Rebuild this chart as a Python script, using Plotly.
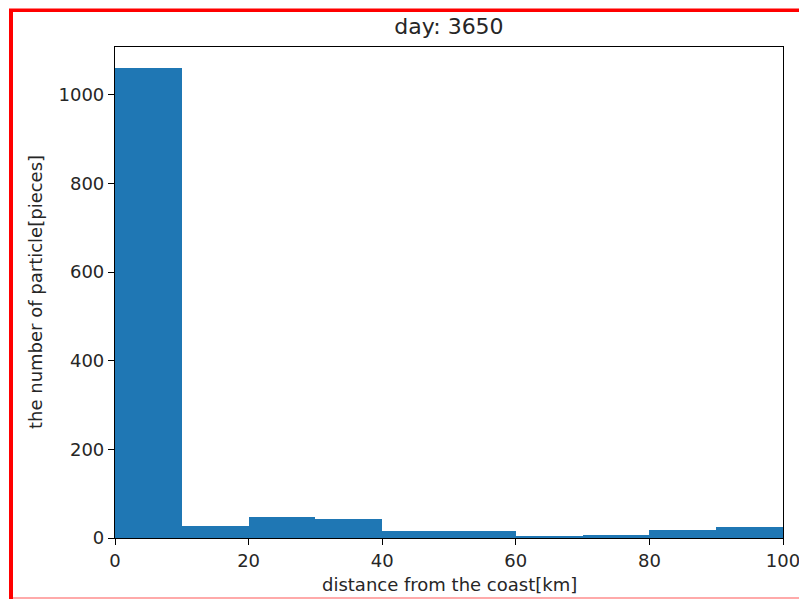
import plotly.graph_objects as go

bin_edges = [0, 10, 20, 30, 40, 50, 60, 70, 80, 90, 100]
counts = [1060, 28, 48, 42, 15, 15, 4, 7, 18, 25]
x_ticks = [0, 20, 40, 60, 80, 100]
y_ticks = [0, 200, 400, 600, 800, 1000]

centers = [(bin_edges[i] + bin_edges[i + 1]) / 2 for i in range(len(counts))]
widths = [bin_edges[i + 1] - bin_edges[i] for i in range(len(counts))]

W, H = 799, 599
L, R, T, B = 115, 16, 47, 61
pw, ph = W - L - R, H - T - B


def px(x):
    return (x - L) / pw


def py(y):
    return (H - B - y) / ph


fig = go.Figure(go.Bar(x=centers, y=counts, width=widths,
                       marker=dict(color="#1f77b4", line=dict(width=0))))

TXT = "#262626"
font = dict(family="DejaVu Sans", size=18, color=TXT)
axis_common = dict(showline=True, linecolor="black", linewidth=1.2, mirror=True,
                   ticks="outside", ticklen=6, tickcolor="black", tickwidth=1.2,
                   showgrid=False, zeroline=False, tickfont=font, automargin=False,
                   ticklabeloverflow="allow")

fig.update_layout(
    width=W, height=H,
    margin=dict(l=L, r=R, t=T, b=B),
    paper_bgcolor="white", plot_bgcolor="white",
    bargap=0, showlegend=False,
    title=dict(text="day: 3650", xref="paper", x=0.5, xanchor="center",
               yref="container", y=1 - 26 / H, yanchor="middle",
               font=dict(family="DejaVu Sans", size=22, color=TXT)),
    xaxis=dict(range=[0, 100], tickvals=x_ticks, **axis_common),
    yaxis=dict(range=[0, 1108], tickvals=y_ticks, **axis_common),
    annotations=[
        dict(text="distance from the coast[km]", xref="paper", yref="paper",
             x=0.5, y=py(584), xanchor="center", yanchor="middle",
             showarrow=False, font=font),
        dict(text="the number of particle[pieces]", xref="paper", yref="paper",
             x=px(35), y=py(292), xanchor="center", yanchor="middle", textangle=-90,
             showarrow=False, font=font),
    ],
    shapes=[
        dict(type="rect", xref="paper", yref="paper", x0=px(9), x1=px(13), y0=py(599), y1=py(9),
             fillcolor="red", line=dict(width=0), layer="above"),
        dict(type="rect", xref="paper", yref="paper", x0=px(9), x1=px(799), y0=py(12), y1=py(8.5),
             fillcolor="red", line=dict(width=0), layer="above"),
        dict(type="rect", xref="paper", yref="paper", x0=px(13), x1=px(799), y0=py(599), y1=py(597),
             fillcolor="#ffaaaa", line=dict(width=0), layer="above"),
    ],
)

fig.write_html("out.html")
